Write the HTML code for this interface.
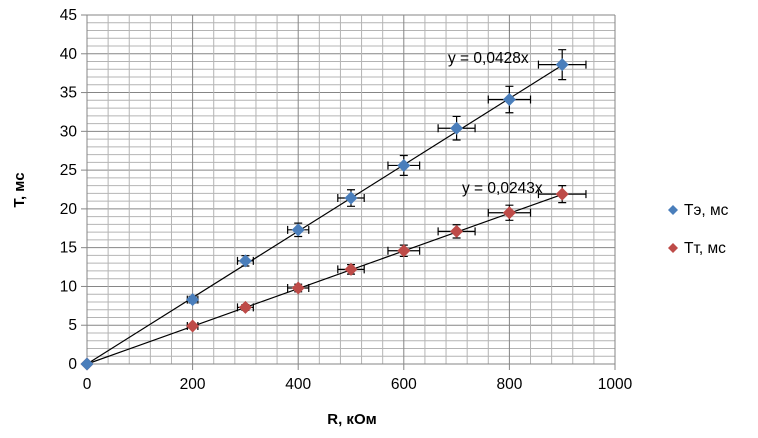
<!DOCTYPE html>
<html><head><meta charset="utf-8"><style>
body{margin:0;background:#fff;}
svg{display:block;font-family:"Liberation Sans",sans-serif;}
</style></head><body>
<svg id="c" width="758" height="438"></svg>
<script>
const categories=[0,200,300,400,500,600,700,800,900];
const seriesTe=[0,8.3,13.3,17.3,21.4,25.6,30.4,34.1,38.6];
const seriesTt=[0,4.9,7.3,9.8,12.2,14.6,17.1,19.5,21.9];
const slopes=[0.0428,0.0243];
const xTicks=[0,200,400,600,800,1000];
const yTicks=[0,5,10,15,20,25,30,35,40,45];
const NS="http://www.w3.org/2000/svg";
const svg=document.getElementById('c');
const X0=87,X1=615,Y0=364,Y1=15;
const sx=v=>X0+(v/1000)*(X1-X0);
const sy=v=>Y0-(v/45)*(Y0-Y1);
function el(t,a,p){const e=document.createElementNS(NS,t);for(const k in a)e.setAttribute(k,a[k]);(p||svg).appendChild(e);return e;}
const g=el('g',{});


for(let v=0;v<=45;v+=1){const y=sy(v);el('line',{x1:X0,x2:X1,y1:y,y2:y,stroke:v%5?'#b4b4b4':'#868686','stroke-width':1},g);}
for(let v=0;v<=1000;v+=40){const x=sx(v);el('line',{x1:x,x2:x,y1:Y1,y2:Y0,stroke:v%200?'#b4b4b4':'#868686','stroke-width':1},g);}
el('line',{x1:X0,x2:X0,y1:Y1,y2:Y0,stroke:'#868686'});
el('line',{x1:X0,x2:X1,y1:Y0,y2:Y0,stroke:'#868686'});
yTicks.forEach(v=>{el('line',{x1:X0-6,x2:X0,y1:sy(v),y2:sy(v),stroke:'#868686'});
 const t=el('text',{x:X0-10,y:sy(v)+5,'text-anchor':'end','font-size':15.5,fill:'#000'});t.textContent=v;
 
 });
xTicks.forEach(v=>{el('line',{x1:sx(v),x2:sx(v),y1:Y0,y2:Y0+6,stroke:'#868686'});
 const t=el('text',{x:sx(v),y:389,'text-anchor':'middle','font-size':15.5,fill:'#000'});t.textContent=v;
 
 });
function series(vals,color,slope,name,lx,ly){
 el('line',{x1:sx(0),y1:sy(0),x2:sx(900),y2:sy(900*slope),stroke:'#000','stroke-width':1.2});
 categories.forEach((c,i)=>{const v=vals[i];
  const cx=sx(c),cy=sy(v);
  if(c>0){const dx=sx(c*1.05)-cx,dy=cy-sy(v*1.05);
   el('path',{d:`M${cx-dx},${cy}H${cx+dx}M${cx-dx},${cy-4}V${cy+4}M${cx+dx},${cy-4}V${cy+4}M${cx},${cy-dy}V${cy+dy}M${cx-4},${cy-dy}H${cx+4}M${cx-4},${cy+dy}H${cx+4}`,stroke:'#000','stroke-width':1.2,fill:'none'});}
  const p=el('path',{d:`M${cx},${cy-6.5}L${cx+6.5},${cy}L${cx},${cy+6.5}L${cx-6.5},${cy}Z`,fill:color});
  
  
 });
 const t=el('text',{x:lx,y:ly,'font-size':15.5,fill:'#000'});t.textContent='y = '+String(slope).replace('.',',')+'x';
 
 
}
series(seriesTt,'#be4b48',slopes[1],'tt','462','193');
series(seriesTe,'#4a7ebb',slopes[0],'te','448','63');
[['Tэ, мс','#4a7ebb',210,'legend-entry-te'],['Tт, мс','#be4b48',248,'legend-entry-tt']].forEach(([s,c,y,n])=>{
 const gg=el('g',{});
 el('path',{d:`M673,${y-5}L678,${y}L673,${y+5}L668,${y}Z`,fill:c},gg);
 const t=el('text',{x:684,y:y+5,'font-size':15.5,fill:'#000'},gg);t.textContent=s;});
const xt=el('text',{x:352,y:424,'text-anchor':'middle','font-size':15,'font-weight':'bold'});xt.textContent='R, кОм';

const yt=el('text',{x:0,y:0,'text-anchor':'middle','font-size':15,'font-weight':'bold',transform:'translate(24,190) rotate(-90)'});yt.textContent='T, мс';

</script>
</body></html>
